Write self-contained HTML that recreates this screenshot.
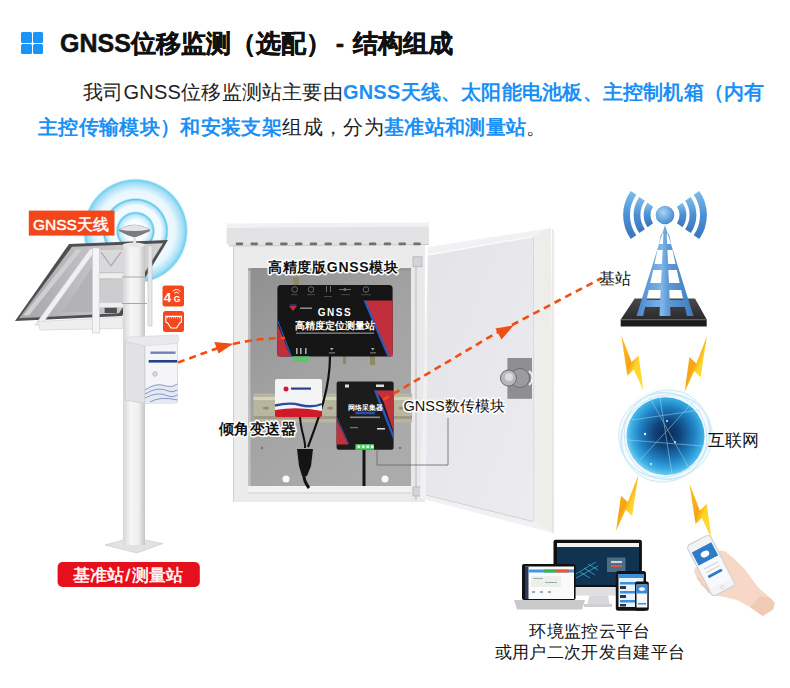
<!DOCTYPE html>
<html><head><meta charset="utf-8">
<style>
html,body{margin:0;padding:0;background:#fff;}
body{width:790px;height:688px;position:relative;overflow:hidden;font-family:"Liberation Sans",sans-serif;}
.abs{position:absolute;}
#icon{left:21px;top:32px;width:22px;height:22px;}
#icon i{position:absolute;width:10.5px;height:10.5px;background:#1994f8;border-radius:1.5px;}
#title{left:60px;top:26px;font-size:25px;font-weight:bold;color:#111;white-space:nowrap;line-height:34px;-webkit-text-stroke:0.5px #111;}
.p{font-size:20px;color:#222;white-space:nowrap;line-height:28px;}
.b{color:#1a90f6;font-weight:bold;}
#l1{left:83px;top:78px;letter-spacing:0.23px;}
#l2{left:38px;top:113px;letter-spacing:0.35px;}
svg{position:absolute;left:0;top:0;}
</style></head>
<body>
<div id="icon" class="abs"><i style="left:0;top:0"></i><i style="left:11.7px;top:0"></i><i style="left:0;top:11.7px"></i><i style="left:11.7px;top:11.7px"></i></div>
<div id="title" class="abs">GNSS位移监测（选配）<span style="margin-left:5px">-</span><span style="margin-left:8.8px">结构组成</span></div>
<div id="l1" class="abs p">我司GNSS位移监测站主要由<span class="b">GNSS天线、太阳能电池板、主控制机箱（内有</span></div>
<div id="l2" class="abs p"><span class="b">主控传输模块）和安装支架</span>组成，分为<span class="b">基准站和测量站</span>。</div>
<svg width="790" height="688" viewBox="0 0 790 688">
<defs>
<radialGradient id="rings" cx="135.5" cy="231" r="53" gradientUnits="userSpaceOnUse">
<stop offset="0" stop-color="#fff"/><stop offset="0.2" stop-color="#f6fcfe"/><stop offset="0.3" stop-color="#bfe8f8"/><stop offset="0.345" stop-color="#5cc8ef"/><stop offset="0.37" stop-color="#f2fbfe"/><stop offset="0.48" stop-color="#f4fbfe"/><stop offset="0.56" stop-color="#b2e4f7"/><stop offset="0.595" stop-color="#58c6ee"/><stop offset="0.625" stop-color="#eef9fd"/><stop offset="0.75" stop-color="#e8f7fd"/><stop offset="0.9" stop-color="#a6dff6"/><stop offset="0.96" stop-color="#6ed0f2"/><stop offset="1" stop-color="#dff4fc" stop-opacity="0"/>
</radialGradient>
<linearGradient id="pole" x1="0" x2="1"><stop offset="0" stop-color="#d6d6d8"/><stop offset="0.35" stop-color="#f6f6f6"/><stop offset="0.7" stop-color="#f0f0f0"/><stop offset="1" stop-color="#c4c4c6"/></linearGradient>
<linearGradient id="inner" x1="0" y1="0" x2="0.6" y2="1"><stop offset="0" stop-color="#8f8f8f"/><stop offset="0.5" stop-color="#a2a2a2"/><stop offset="1" stop-color="#ababab"/></linearGradient>
<linearGradient id="door" x1="0" y1="0" x2="1" y2="1"><stop offset="0" stop-color="#e3e3e8"/><stop offset="1" stop-color="#ebebf0"/></linearGradient>
<radialGradient id="globe" cx="0.52" cy="0.47" r="0.55"><stop offset="0" stop-color="#0a2850"/><stop offset="0.3" stop-color="#0f437a"/><stop offset="0.62" stop-color="#1e7ec0"/><stop offset="0.85" stop-color="#3cb0e6"/><stop offset="1" stop-color="#86d6f4"/></radialGradient>
<linearGradient id="bolt" x1="0" y1="0" x2="1" y2="1"><stop offset="0" stop-color="#ffc21c"/><stop offset="0.45" stop-color="#f7a216"/><stop offset="0.6" stop-color="#ffd42a"/><stop offset="1" stop-color="#ffe03a"/></linearGradient>
<linearGradient id="tower" x1="0" x2="1"><stop offset="0" stop-color="#4a88cc"/><stop offset="0.45" stop-color="#7fb6e6"/><stop offset="0.55" stop-color="#5f9ad6"/><stop offset="1" stop-color="#3f7cc0"/></linearGradient>
<linearGradient id="arcg" x1="0" y1="0" x2="0" y2="1"><stop offset="0" stop-color="#7ab8ea"/><stop offset="0.5" stop-color="#4a90d4"/><stop offset="1" stop-color="#3a78c0"/></linearGradient>
<linearGradient id="plat" x1="0" y1="0" x2="0" y2="1"><stop offset="0" stop-color="#4a4a4c"/><stop offset="1" stop-color="#2a2a2c"/></linearGradient>
<radialGradient id="ball" cx="0.4" cy="0.35" r="0.7"><stop offset="0" stop-color="#a8d4f4"/><stop offset="1" stop-color="#3f86cc"/></radialGradient>
<linearGradient id="panelg" x1="0" y1="0" x2="1" y2="0"><stop offset="0" stop-color="#a4a4a6"/><stop offset="0.4" stop-color="#bdbdbf"/><stop offset="1" stop-color="#d4d4d6"/></linearGradient>
<radialGradient id="halo" cx="0.5" cy="0.5" r="0.5"><stop offset="0.7" stop-color="#eaf7fd" stop-opacity="1"/><stop offset="0.9" stop-color="#f2fafe" stop-opacity="0.8"/><stop offset="1" stop-color="#fff" stop-opacity="0"/></radialGradient>
</defs>
<!-- LEFT POLE ASSEMBLY -->
<circle cx="135.5" cy="231" r="53" fill="url(#rings)"/>
<rect x="28.8" y="210.6" width="85.7" height="25" fill="#f3461b"/>
<text x="71" y="229.5" font-size="15.5" fill="#fff" stroke="#fff" stroke-width="0.45" text-anchor="middle">GNSS天线</text>
<!-- solar panel -->
<polygon points="69,244 168,240 122,316 15,321" fill="#4f4f51"/>
<polygon points="72,246.8 163,243.2 119,313.2 19,318.2" fill="url(#panelg)"/>
<polygon points="76,249.5 82,249.5 29,315.5 23,315.5" fill="#cfcfd1"/>
<polygon points="96,262 92,262 92,312 62,312" fill="#b3b3b5"/>
<polygon points="99,250 123,250 123,272 99,272" fill="#d9d9db"/>
<path d="M101,252 L111,266 L121,252" stroke="#a9a9ab" stroke-width="1.2" fill="none"/>
<polygon points="99,280 123,280 123,302 99,302" fill="#cdcdcf"/>
<rect x="104.6" y="307" width="12.3" height="6" fill="#505052"/>
<polygon points="90,249 96.5,249 41.5,325 35,325" fill="#f0f0f2" stroke="#c6c6ca" stroke-width="0.6"/>
<polygon points="38,321.5 123,317 123,328.5 40,330" fill="#eeeef0" stroke="#cdcdd0" stroke-width="0.6"/>
<rect x="92.4" y="248" width="7" height="85" fill="#f4f4f6" stroke="#c8c8cc" stroke-width="0.6"/>
<rect x="99" y="273" width="25" height="5.5" fill="#eeeeee" stroke="#c8c8c8" stroke-width="0.5"/>
<rect x="99" y="302.5" width="25" height="5" fill="#eeeeee" stroke="#c8c8c8" stroke-width="0.5"/>
<rect x="148" y="246" width="4" height="80" fill="#e8e8ea" stroke="#bfbfc6" stroke-width="0.6"/>
<!-- pole -->
<rect x="123" y="244" width="22" height="302" fill="url(#pole)"/>
<line x1="122" y1="277" x2="147" y2="277" stroke="#a8a8a8" stroke-width="1"/>
<line x1="122" y1="303.5" x2="147" y2="303.5" stroke="#a8a8a8" stroke-width="1"/>
<ellipse cx="134" cy="245" rx="11" ry="2.5" fill="#e8e8e8"/>
<!-- antenna -->
<rect x="133" y="234" width="3" height="11" fill="#e4e4e4"/>
<path d="M119,229.5 Q134,220 150,229.5 L150,231 Q142,235 136,237 L133,237 Q126,235 119,231 Z" fill="#7c7c7e"/>
<path d="M119.5,229.5 Q134,220.5 149.5,229.5 Q134,232.5 119.5,229.5 Z" fill="#e4e4e6"/>
<!-- 4G / ethernet icons -->
<rect x="162.5" y="285.5" width="21.5" height="21" rx="2.5" fill="#f4481c"/>
<text x="163.8" y="302.4" font-size="13.5" font-weight="bold" fill="#fff">4</text>
<text x="173.8" y="302.4" font-size="8.5" font-weight="bold" fill="#fff">G</text>
<path d="M172.5,291.5 Q176.5,287.5 180.5,291.5 M174.3,293.3 Q176.5,291 178.7,293.3" stroke="#fff" stroke-width="1" fill="none"/>
<rect x="163" y="311" width="21" height="21" rx="2.5" fill="#f4481c"/>
<path d="M165.8,316.4 H181.4 V322 Q179.5,322.5 178.5,325 L176.6,328 H171 L169,325 Q168,322.5 165.8,322 Z" fill="none" stroke="#fff" stroke-width="1.1"/>
<g stroke="#fff" stroke-width="0.6"><path d="M167.5,316.5 v2 M169.5,316.5 v2 M171.5,316.5 v2 M173.5,316.5 v2 M175.5,316.5 v2 M177.5,316.5 v2 M179.5,316.5 v2"/></g>
<!-- control box -->
<polygon points="125,341 145,344.5 145,403.5 125,400" fill="#e2e2e4" stroke="#c4c4c8" stroke-width="0.6"/>
<polygon points="145,344.5 177.5,341.5 177.5,403 145,403.5" fill="#f5f5f7" stroke="#c8c8cc" stroke-width="0.6"/>
<polygon points="128,337 178,335 179,340 176.5,343.5 145,346 126,341.5" fill="#e9e9eb" stroke="#cfcfd2" stroke-width="0.5"/>
<rect x="150.5" y="351.5" width="25" height="2.4" fill="#6f82b4"/>
<rect x="148.7" y="360" width="28.5" height="2.6" fill="#23408a"/>
<circle cx="155" cy="374" r="2.4" fill="#d6d6da" stroke="#a8a8ac" stroke-width="0.5"/>
<path d="M145,390 Q156,382 166,386 Q172,388 177.5,384 L177.5,403 L145,403.5 Z" fill="#e4e9f4"/>
<g stroke="#4a62a0" stroke-width="0.6" fill="none"><path d="M145,390 Q156,382 166,386 Q172,388 177.5,384"/><path d="M145,394 Q158,386 168,391 Q173,393 177.5,390"/><path d="M145,398 Q158,391 168,396 Q173,398 177.5,395"/><path d="M150,402 Q160,396 177.5,400"/></g>
<!-- base plate -->
<polygon points="105,545 123,540 145,540 163,543.5 137,553" fill="#e2e2e4" stroke="#c8c8ca" stroke-width="0.6"/>
<rect x="123" y="535" width="22" height="10" fill="url(#pole)"/>
<!-- CABINET -->
<rect x="233" y="244" width="192" height="258" fill="#ebebec"/>
<line x1="233.5" y1="244" x2="233.5" y2="502" stroke="#cfcfd1" stroke-width="1"/>
<rect x="248" y="268" width="163" height="218" fill="url(#inner)"/>
<rect x="248" y="268" width="2.5" height="218" fill="#c8c8c8" opacity="0.8"/>
<rect x="248" y="268" width="163" height="3" fill="#8f8f8f" opacity="0.5"/>
<rect x="248" y="486" width="163" height="7" fill="#f2f2f2"/>
<line x1="248" y1="493" x2="411" y2="493" stroke="#cfcfcf" stroke-width="1"/>
<!-- cap -->
<polygon points="227,223.5 429,222.5 429,228 227,228" fill="#f1f1f2"/>
<polygon points="226.5,228 429,226.5 429,244 229,246 226.5,243" fill="#e3e3e5"/>
<line x1="229" y1="246" x2="429" y2="244.5" stroke="#cbcbcd" stroke-width="1"/>
<g fill="#707072"><rect x="235.7" y="242.6" width="7.5" height="2.6" rx="1.2"/><rect x="250.5" y="242.6" width="7.5" height="2.6" rx="1.2"/><rect x="265.3" y="242.6" width="7.5" height="2.6" rx="1.2"/><rect x="280.1" y="242.6" width="7.5" height="2.6" rx="1.2"/><rect x="294.9" y="242.6" width="7.5" height="2.6" rx="1.2"/><rect x="309.7" y="242.6" width="7.5" height="2.6" rx="1.2"/><rect x="324.5" y="242.6" width="7.5" height="2.6" rx="1.2"/><rect x="339.3" y="242.6" width="7.5" height="2.6" rx="1.2"/><rect x="354.1" y="242.6" width="7.5" height="2.6" rx="1.2"/><rect x="368.9" y="242.6" width="7.5" height="2.6" rx="1.2"/><rect x="383.7" y="242.6" width="7.5" height="2.6" rx="1.2"/><rect x="398.5" y="242.6" width="7.5" height="2.6" rx="1.2"/><rect x="413.3" y="242.6" width="7.5" height="2.6" rx="1.2"/></g>
<!-- hinge strip -->
<rect x="411" y="255" width="13" height="247" fill="#e9e9ea"/>
<line x1="416" y1="258" x2="416" y2="500" stroke="#c8c8c8" stroke-width="1.5"/>
<rect x="413" y="256.8" width="9" height="10" fill="#d4d4d6" stroke="#a8a8aa" stroke-width="0.6"/><rect x="413" y="487" width="9" height="9" fill="#d4d4d6" stroke="#a8a8aa" stroke-width="0.6"/>
<!-- DIN rail -->
<rect x="253.5" y="393.5" width="158.5" height="29" fill="#b9b6a0"/>
<rect x="253.5" y="397" width="158.5" height="3" fill="#d4d2c0"/>
<rect x="253.5" y="416" width="158.5" height="3" fill="#9c9a86"/>
<g fill="#8f8d7c"><ellipse cx="266" cy="408" rx="3" ry="1.5"/><ellipse cx="290" cy="408" rx="3" ry="1.5"/><ellipse cx="330" cy="408" rx="3" ry="1.5"/><ellipse cx="402" cy="408" rx="3" ry="1.5"/></g>
<!-- holes -->
<circle cx="286" cy="479" r="3.5" fill="#fafafa"/><circle cx="385" cy="479" r="3.5" fill="#fafafa"/>
<circle cx="262" cy="448" r="1.3" fill="#777"/><circle cx="340" cy="288" r="1.3" fill="#777"/><circle cx="400" cy="448" r="1.3" fill="#777"/>
<!-- GNSS module -->
<rect x="293" y="277" width="6" height="9" fill="#8d8a66"/><rect x="343" y="356" width="3" height="8" fill="#8d8a66"/><rect x="370" y="356" width="5" height="9" fill="#8d8a66"/>
<rect x="277.4" y="284.9" width="115.2" height="71.5" rx="3.5" fill="#151515"/>
<polygon points="364.8,300.5 392.6,300.5 392.6,356.4 388.5,356.4" fill="#c02f3b"/>
<polygon points="372,309.5 392.6,309.5 392.6,318 380,318" fill="#151515" opacity="0"/>
<polygon points="363.5,300.5 365.8,300.5 389.6,356.4 387.3,356.4" fill="#2a5bc0"/>
<polygon points="277.4,324 290.5,356.4 277.4,356.4" fill="#c02f3b"/>
<polygon points="277.4,321 278.4,321 292,356.4 290.5,356.4" fill="#2a5bc0"/>
<g fill="none" stroke="#8a8a8a" stroke-width="0.7"><circle cx="294.7" cy="289.5" r="2.8"/><circle cx="311" cy="289.5" r="2.8"/><circle cx="366" cy="289.5" r="2.8"/></g>
<g fill="#6f6f6f"><rect x="326" y="286" width="1" height="6"/><rect x="330" y="286" width="1" height="6"/><rect x="339" y="289" width="12" height="1"/><circle cx="345" cy="289.5" r="1.6"/>
<rect x="291" y="294.5" width="7" height="0.6"/><rect x="307" y="294.5" width="8" height="0.6"/><rect x="324" y="296" width="8" height="0.6"/><rect x="341" y="294.5" width="9" height="0.6"/><rect x="361" y="294.5" width="10" height="0.6"/></g>
<path d="M289,306 h8 l-4,5 z" fill="#c02f3b"/><path d="M289.5,305 h7" stroke="#2a5bc0" stroke-width="1"/>
<rect x="300" y="307.5" width="12" height="1.4" fill="#9a9a9a"/>
<text x="335" y="316.3" font-size="10" font-weight="bold" fill="#fff" text-anchor="middle" letter-spacing="1.6">GNSS</text>
<text x="334.5" y="329" font-size="9.9" font-weight="bold" fill="#fff" text-anchor="middle">高精度定位测量站</text>
<rect x="296" y="332.5" width="78" height="1.3" fill="#8a8a8a"/>
<g fill="#aaa"><rect x="296" y="348" width="1.6" height="6"/><rect x="300" y="348" width="1.6" height="6"/><rect x="305" y="348" width="1.6" height="6"/><path d="M330,348 h3.5 l-1.75,2.5 z"/><path d="M371,348 h3.5 l-1.75,2.5 z"/><rect x="329" y="352.5" width="6" height="0.8"/><rect x="370" y="352.5" width="6" height="0.8"/></g>
<rect x="293" y="356.4" width="16.5" height="5.6" fill="#5cc46a"/>
<!-- cables -->
<path d="M330,356 C330,390 318,420 308,447" stroke="#111" stroke-width="2.2" fill="none"/>
<path d="M300,415 C300,430 306,440 305,448" stroke="#111" stroke-width="2" fill="none"/>
<path d="M297,449 L313,449 L311,466 L307,476 L302,476 L299,466 Z" fill="#141414"/>
<path d="M304,476 C304,481 306,484 309,488" stroke="#111" stroke-width="3" fill="none"/>
<rect x="362.5" y="450" width="3" height="36" fill="#151515"/>
<!-- tilt sensor -->
<rect x="275" y="379" width="47" height="38" rx="2" fill="#f4f4f6"/>
<path d="M275,410 Q298,406 322,411 L322,416 Q322,417 320,417 L277,417 Q275,417 275,416 Z" fill="#d2192a"/>
<path d="M275,405.5 Q290,402 300,405 Q312,408 322,404" stroke="#2b4aa0" stroke-width="2.4" fill="none"/>
<circle cx="286" cy="389" r="2.5" fill="#d2192a"/><rect x="291" y="387.5" width="20" height="2.2" fill="#2b3f90"/>

<!-- data module -->
<rect x="336.6" y="381.5" width="57" height="68.2" rx="2" fill="#1c1c1c"/>
<polygon points="375,390.4 393.6,390.4 393.6,432 383,400" fill="#c1303c"/>
<polygon points="374,390.4 376.5,390.4 393.6,434 393.6,440" fill="#2a5bc0"/>
<polygon points="336.6,419.6 348.3,444.4 336.6,444.4" fill="#c1303c"/>
<line x1="337" y1="418" x2="348.5" y2="444" stroke="#2a5bc0" stroke-width="0.9"/>
<text x="365.5" y="410" font-size="6.5" font-weight="bold" fill="#fff" text-anchor="middle">网络采集器</text>
<rect x="355.4" y="411.6" width="19.5" height="2.7" fill="#2a4fb0"/>
<rect x="350" y="416.5" width="30" height="1.6" fill="#8a8a8a"/>
<rect x="350" y="427" width="8" height="1.2" fill="#777"/>
<g fill="#ddd"><rect x="345" y="384.5" width="4" height="3"/><rect x="376" y="384.5" width="8" height="2.5"/><rect x="377" y="428" width="8" height="1.5"/></g>
<rect x="355.4" y="444.2" width="18.6" height="5.5" fill="#53d36a"/>
<g fill="#e8ffe8"><rect x="357.5" y="445.5" width="2.5" height="2.5"/><rect x="362" y="445.5" width="2.5" height="2.5"/><rect x="366.5" y="445.5" width="2.5" height="2.5"/><rect x="371" y="445.5" width="2.5" height="2.5"/></g>
<!-- door -->
<polygon points="428,247 551,228 553,533 420,498" fill="#f1f0f2"/>
<polygon points="535,236 551,228 553,533 536,522" fill="#efede9"/>
<polygon points="428,255 533,236.5 533,521 426,494" fill="url(#door)"/>
<line x1="428" y1="255" x2="533" y2="236.5" stroke="#fafafa" stroke-width="1.5"/>
<line x1="533.5" y1="236.5" x2="534" y2="521" stroke="#d6d6da" stroke-width="1"/>
<line x1="426" y1="495" x2="533" y2="521.5" stroke="#d0d0d4" stroke-width="1"/>
<line x1="553" y1="229" x2="553" y2="533" stroke="#d8d6d2" stroke-width="1"/>
<!-- lock -->
<rect x="507.4" y="358" width="24.6" height="40.8" fill="#8f8f91"/>
<circle cx="520" cy="378" r="9.5" fill="#9c9c9e" stroke="#6e6e70" stroke-width="1"/>
<path d="M529,371 A9,9 0 0 1 529,385" stroke="#f4f4f4" stroke-width="1.8" fill="none"/>
<circle cx="508.5" cy="378" r="8" fill="#b9b9bb" stroke="#6a6a6c" stroke-width="1"/>
<circle cx="509" cy="377" r="4" fill="#dcdcde"/>
<!-- callout line -->
<path d="M448,418 V465 H377 V449" stroke="#666" stroke-width="0.8" fill="none"/>
<!-- labels with halo -->
<g font-size="15" fill="#111" stroke="#fff" stroke-width="3" paint-order="stroke" stroke-linejoin="round">
<text x="268" y="272" font-size="14" font-weight="bold" letter-spacing="0.7">高精度版GNSS模块</text>
<text x="219" y="433.5" font-size="14.5" font-weight="bold" letter-spacing="0.4">倾角变送器</text>
<text x="403.5" y="410.5" font-size="14.5" stroke-width="3.2">GNSS数传模块</text>
</g>
<!-- arrows -->
<g stroke="#f24d12" stroke-width="2.6" stroke-dasharray="7,5" fill="none">
<path d="M178,362.5 L218,348"/>
<path d="M233,344 Q260,338 285,338"/>
<path d="M383,400 L498,332"/>
<path d="M512,325 L601.8,278"/>
</g>
<polygon points="233.4,343.7 214.4,342 218.5,353.6" fill="#f24d12"/>
<polygon points="513.7,325.3 495.4,328.4 501.5,339.6" fill="#f24d12"/>
<!-- TOWER -->
<g fill="none" stroke="url(#arcg)" stroke-width="6.8"><path d="M650.3,204.7 A18,18 0 0 0 650.3,225.3"/><path d="M679.7,204.7 A18,18 0 0 1 679.7,225.3"/><path d="M642.1,198.9 A28,28 0 0 0 642.1,231.1"/><path d="M687.9,198.9 A28,28 0 0 1 687.9,231.1"/><path d="M633.5,192.9 A38.5,38.5 0 0 0 633.5,237.1"/><path d="M696.5,192.9 A38.5,38.5 0 0 1 696.5,237.1"/></g>
<polygon points="634.7,298.6 695,298.6 706.7,319.5 620.7,319.5" fill="url(#plat)"/>
<rect x="620.7" y="319.5" width="86" height="7" fill="#1c1c1c"/>
<line x1="620.7" y1="319.8" x2="706.7" y2="319.8" stroke="#6a6a6a" stroke-width="0.8"/>
<path d="M665,225 L636.5,316 L693.5,316 Z M661.0,234.0 L663.4,234.0 L662.9,244.0 L658.8,244.0 Z M666.6,234.0 L669.0,234.0 L671.2,244.0 L667.1,244.0 Z M657.5,250.0 L662.6,250.0 L661.9,264.0 L654.5,264.0 Z M667.4,250.0 L672.5,250.0 L675.5,264.0 L668.1,264.0 Z M653.2,270.0 L661.7,270.0 L661.0,283.0 L650.3,283.0 Z M668.3,270.0 L676.8,270.0 L679.7,283.0 L669.0,283.0 Z M648.8,290.0 L660.7,290.0 L660.2,300.0 L646.6,300.0 Z M669.3,290.0 L681.2,290.0 L683.4,300.0 L669.8,300.0 Z M645.1,307.0 L659.9,307.0 L659.4,316.0 L643.1,316.0 Z M670.1,307.0 L684.9,307.0 L686.9,316.0 L670.6,316.0 Z " fill="url(#tower)" fill-rule="evenodd"/>
<circle cx="665" cy="215" r="9.3" fill="url(#ball)"/>
<text x="599" y="284" font-size="16" fill="#111">基站</text>
<!-- bolts -->
<g fill="url(#bolt)"><polygon points="621.1,334.7 631.6,361.9 638.6,355.6 643.4,390.5 633.7,369.6 627.4,375.8"/><polygon points="706.9,336.2 696.4,363.4 689.4,357.1 684.6,392.0 694.3,371.1 700.6,377.3"/><polygon points="638.4,474.9 627.9,502.1 620.9,495.8 616.1,530.7 625.8,509.8 632.1,516.0"/><polygon points="689.3,483.2 699.8,510.4 706.8,504.1 711.6,539.0 701.9,518.1 695.6,524.3"/></g>
<!-- GLOBE -->
<circle cx="665.5" cy="436" r="50" fill="url(#halo)"/>
<g fill="none" stroke="#c4e6f6" stroke-width="0.8"><ellipse cx="665.5" cy="436" rx="47" ry="43"/><ellipse cx="665.5" cy="436" rx="43" ry="47" transform="rotate(30 665.5 436)"/><ellipse cx="665.5" cy="436" rx="46" ry="40" transform="rotate(-25 665.5 436)"/><ellipse cx="665.5" cy="436" rx="44" ry="41" transform="rotate(70 665.5 436)"/></g>
<circle cx="665.5" cy="436.2" r="39" fill="url(#globe)"/>
<g stroke="#9fd8f4" stroke-width="0.7" fill="none" opacity="0.75">
<path d="M632,420 L700,410"/><path d="M640,460 L695,400"/><path d="M650,398 L690,470"/><path d="M628,440 L702,446"/><path d="M660,398 L672,474"/>
</g>
<g fill="#d8f2ff"><circle cx="645" cy="434" r="1.2"/><circle cx="667" cy="421" r="1"/><circle cx="651" cy="464" r="1.1"/><circle cx="675" cy="442" r="1"/></g>
<text x="708" y="446" font-size="16.5" fill="#111">互联网</text>
<!-- DEVICES -->
<rect x="553.5" y="539.8" width="88.4" height="47.6" rx="2" fill="#111"/>
<rect x="557" y="543" width="82" height="42" fill="#0f3350"/>
<rect x="557" y="543" width="82" height="4" fill="#f2f2f2"/>
<rect x="553.5" y="587" width="88.4" height="8.6" fill="#e0e0e2"/>
<polygon points="589.5,595.6 608,595.6 610,606 587,606" fill="#d8d8da"/>
<rect x="584" y="604" width="28" height="3" fill="#cfcfd1"/>
<g stroke="#3fb4dc" stroke-width="0.8" fill="none" opacity="0.9"><path d="M574,575 L596,562 M576,578 L598,566 M580,572 L590,578 M584,568 L595,575 M588,564 L598,570"/></g>
<rect x="607" y="557.5" width="18.5" height="14.5" fill="#4e6e86"/><rect x="611" y="561" width="11" height="2" fill="#c8d4de"/><rect x="611" y="565" width="11" height="2" fill="#d8584a"/>
<rect x="522" y="564" width="53.6" height="36" rx="2" fill="#111"/>
<rect x="525" y="566.5" width="49" height="32.5" fill="#fafafa"/>
<rect x="525" y="566.5" width="3.5" height="32.5" fill="#2a3a5a"/>
<rect x="528.5" y="569.5" width="45.5" height="3" fill="#3a9ae6"/><rect x="544" y="569.5" width="12" height="3" fill="#3fb24a"/><rect x="556" y="569.5" width="13" height="3" fill="#e25a3a"/>
<rect x="531" y="576" width="30" height="11" fill="#eef0e8"/><g fill="#9ab"><rect x="533" y="578" width="10" height="1"/><rect x="545" y="582" width="12" height="1"/><rect x="532" y="591" width="3" height="2"/><rect x="540" y="591" width="3" height="2"/><rect x="548" y="591" width="3" height="2"/></g>
<polygon points="514,600 585,600 582,609.5 517,609.5" fill="#c9c9cb"/>
<rect x="615.8" y="571" width="30.2" height="39.7" rx="2.5" fill="#151515"/>
<rect x="618.5" y="574" width="25" height="33" fill="#e8f3fb"/>
<rect x="618.5" y="574" width="25" height="4" fill="#3a90dc"/>
<rect x="620" y="582" width="21" height="2.5" fill="#3a90dc"/><rect x="620" y="591" width="21" height="2.5" fill="#3a90dc"/><rect x="620" y="600" width="21" height="2.5" fill="#3a90dc"/><g fill="#334"><rect x="620" y="586" width="6" height="3"/><rect x="620" y="595" width="6" height="3"/><rect x="620" y="604" width="6" height="2.5"/></g>
<rect x="635" y="581.6" width="13.8" height="29.1" rx="2" fill="#111"/>
<rect x="636.5" y="584.5" width="10.8" height="23" fill="#f4f8fc"/>
<rect x="636.5" y="584.5" width="10.8" height="9" fill="#3a8fd8"/><ellipse cx="642" cy="589" rx="3" ry="1.8" fill="#fff"/><rect x="638" y="603" width="8" height="1.5" fill="#3a8fd8"/>
<text x="590" y="637" font-size="16.5" fill="#111" text-anchor="middle" letter-spacing="0.3">环境监控云平台</text>
<text x="590" y="658" font-size="16.5" fill="#111" text-anchor="middle" letter-spacing="0.3">或用户二次开发自建平台</text>
<!-- phone in hand -->
<path d="M712,556 L720.3,550.4 L725.1,551.2 L733.9,558.4 L745.1,569.5 L753.1,580.7 L759.5,588.7 L770.7,598.3 L774.7,603.1 L773.1,609.5 L762.7,615.9 L749.9,607.1 L737.1,599.9 L722.7,596.7 L713.1,595.1 L708.4,592.7 L702,585.5 L697.2,579.1 L694,571.1 L695.6,567.1 L700.4,567.9 Z" fill="#f7d8c6"/>
<path d="M749.9,607.1 L762.7,615.9 L773.1,609.5 L774.7,603.1 L770.7,598.3 L760,596 Z" fill="#f2cbb5"/>
<path d="M697.2,579.1 C699,578 702,580 702,585.5 M702,585.5 C705,585 708,589 708.4,592.7" stroke="#e8b9a0" stroke-width="0.8" fill="none"/>
<g transform="rotate(-27.5 711 565.5)">
<rect x="698" y="537" width="26" height="57" rx="4" fill="#f4f4f6" stroke="#d0d0d5" stroke-width="1.2"/>
<rect x="700" y="545" width="22" height="15" fill="#2e7bc8"/>
<rect x="700" y="560" width="22" height="26" fill="#f8f9fb"/>
<ellipse cx="711" cy="552.5" rx="4.5" ry="3" fill="#fff"/>
<rect x="703" y="573" width="16" height="2.8" rx="1.4" fill="#2e7bc8"/>
<rect x="703" y="565" width="16" height="1" fill="#cfd6de"/><rect x="703" y="569" width="16" height="1" fill="#cfd6de"/>
<circle cx="711" cy="590" r="1.8" fill="none" stroke="#d0d0d5" stroke-width="0.7"/>
</g>
<!-- red label -->
<rect x="57.6" y="562" width="142.2" height="25" rx="5" fill="#e5101b"/>
<text x="128" y="581" font-size="17" fill="#fff" stroke="#fff" stroke-width="0.5" text-anchor="middle" letter-spacing="0.3">基准站<tspan dx="1">/</tspan><tspan dx="1">测量站</tspan></text>
</svg>
</body></html>
